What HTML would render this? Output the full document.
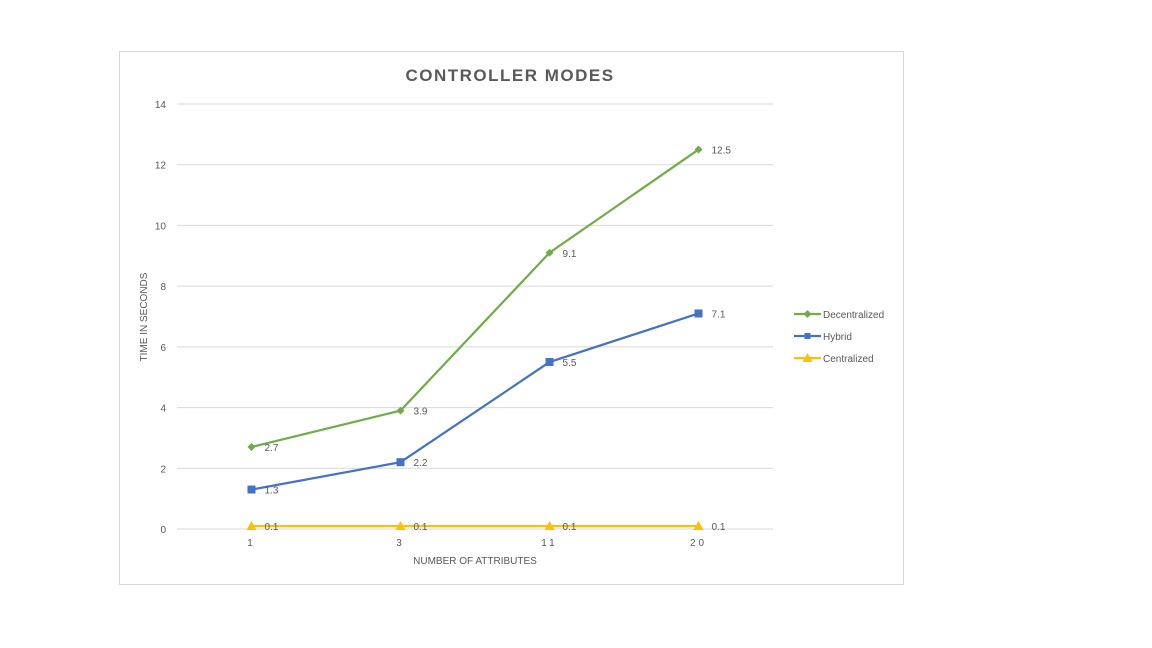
<!DOCTYPE html>
<html><head><meta charset="utf-8"><style>
body{margin:0;background:#fff;width:1152px;height:648px;overflow:hidden;font-family:"Liberation Sans",sans-serif;}
</style></head><body>
<svg id="chart" width="1152" height="648" style="position:absolute;left:0;top:0">
<rect x="119.5" y="51.5" width="784" height="533" fill="#fff" stroke="#d9d9d9"/>
<text x="510" y="81" text-anchor="middle" font-size="17" font-weight="bold" fill="#595959" letter-spacing="1.5">CONTROLLER MODES</text>
<text transform="translate(147,317) rotate(-90)" text-anchor="middle" font-size="10" fill="#595959">TIME IN SECONDS</text>
<text x="475" y="564" text-anchor="middle" font-size="10" fill="#595959">NUMBER OF ATTRIBUTES</text>
<g id="grid"></g><g id="series"></g><g id="legend"></g>
</svg>
<script>
const categories=["1","3","11","20"];
const yTicks=[0,2,4,6,8,10,12,14];
const seriesNames=["Decentralized","Hybrid","Centralized"];
const decentralized=[2.7,3.9,9.1,12.5];
const hybrid=[1.3,2.2,5.5,7.1];
const centralized=[0.1,0.1,0.1,0.1];
const NS="http://www.w3.org/2000/svg";
const L=177,R=773,T=104,B=529,yMax=14;
const x=i=>L+(R-L)/categories.length*(i+0.5);
const y=v=>B-(B-T)*v/yMax;
function mk(tag,attrs,parent){const e=document.createElementNS(NS,tag);for(const k in attrs)e.setAttribute(k,attrs[k]);parent.appendChild(e);return e;}
const grid=document.getElementById('grid');
yTicks.forEach(t=>{
 const l=mk('line',{x1:L,x2:R,y1:y(t),y2:y(t),stroke:'#d9d9d9'},grid);
 
 
 const tx=mk('text',{x:166,y:y(t)+4,'text-anchor':'end','font-size':10,fill:'#595959'},grid);
 tx.textContent=t;
 
 
});
categories.forEach((c,i)=>{
 const tx=mk('text',{x:x(i),y:546,'text-anchor':'middle','font-size':10,fill:'#595959','letter-spacing':'3'},grid);
 tx.textContent=c;
 
 
});
const colors=["#70ad47","#4472c4","#ffc000"];
const data=[decentralized,hybrid,centralized];
function marker(k,cx,cy,g){
 if(k===0)return mk('polygon',{points:`${cx},${cy-4} ${cx+4},${cy} ${cx},${cy+4} ${cx-4},${cy}`,fill:colors[0]},g);
 if(k===1)return mk('rect',{x:cx-4,y:cy-4,width:8,height:8,fill:colors[1]},g);
 return mk('polygon',{points:`${cx},${cy-5} ${cx+5},${cy+4} ${cx-5},${cy+4}`,fill:colors[2]},g);
}
const sg=document.getElementById('series');
[2,1,0].forEach(k=>{
 const g=mk('g',{},sg);
 
 
 const p=mk('polyline',{points:data[k].map((v,i)=>x(i)+','+y(v)).join(' '),fill:'none',stroke:colors[k],'stroke-width':2.2},g);
 
 
 data[k].forEach((v,i)=>{
  const m=marker(k,x(i),y(v),g);
  
  
  const t=mk('text',{x:x(i)+13,y:y(v)+4,'font-size':10,fill:'#595959'},g);
  t.textContent=v;
  
  
 });
});
const lg=document.getElementById('legend');
seriesNames.forEach((n,k)=>{
 const ly=314+k*22;
 const g=mk('g',{},lg);
 
 
 mk('line',{x1:794,x2:821,y1:ly,y2:ly,stroke:colors[k],'stroke-width':2.2},g);
 const m=marker(k,807.5,ly,g);
 if(k===1){m.setAttribute('width',6);m.setAttribute('height',6);m.setAttribute('x',804.5);m.setAttribute('y',ly-3);}
 const t=mk('text',{x:823,y:ly+4,'font-size':10,fill:'#595959'},g);
 t.textContent=n;
});
</script>
</body></html>
